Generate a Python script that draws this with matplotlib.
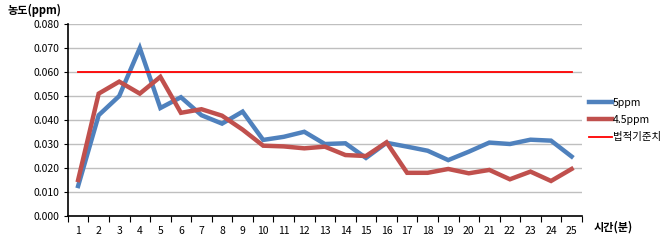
import numpy as np
import matplotlib.pyplot as plt

plt.rcParams['font.family'] = ['Noto Sans CJK KR', 'DejaVu Sans']

# data
minutes = list(range(1, 26))
ppm_5 = [0.0125, 0.042, 0.050, 0.070, 0.045, 0.0495, 0.042, 0.0385, 0.0435, 0.0317,
         0.033, 0.0351, 0.030, 0.0303, 0.0242, 0.0305, 0.0289, 0.0272, 0.0233, 0.0268,
         0.0306, 0.030, 0.0318, 0.0314, 0.0248]
ppm_45 = [0.015, 0.051, 0.056, 0.051, 0.058, 0.043, 0.0445, 0.0418, 0.036, 0.0293,
          0.029, 0.0282, 0.0289, 0.0254, 0.025, 0.0307, 0.018, 0.018, 0.0196, 0.0178,
          0.0192, 0.0153, 0.0185, 0.0146, 0.0196]
limit = [0.060] * 25

fig = plt.figure(figsize=(6.65, 2.49), dpi=100)
ax = fig.add_axes([0.102, 0.1325, 0.773, 0.771])

ax.plot(minutes, ppm_5, color='#4F81BD', lw=3.2, label='5ppm', solid_joinstyle='miter')
ax.plot(minutes, ppm_45, color='#C0504D', lw=3.2, label='4.5ppm', solid_joinstyle='miter')
ax.plot(minutes, limit, color='#FF0000', lw=1.3, label='법적기준치')

ax.set_xlim(0.5, 25.5)
ax.set_ylim(0, 0.08)
ax.set_yticks(np.arange(0, 0.081, 0.01))
ax.set_yticklabels([f'{v:.3f}' for v in np.arange(0, 0.081, 0.01)], fontsize=7.5)
ax.yaxis.grid(True, color='#BFBFBF', lw=1)
ax.set_axisbelow(True)

ax.set_xticks(np.arange(0.5, 26, 1))
ax.set_xticklabels([])
ax.set_xticks(minutes, minor=True)
ax.set_xticklabels([str(m) for m in minutes], minor=True, fontsize=7.5)
ax.tick_params(axis='x', which='major', length=4, direction='out')
ax.tick_params(axis='x', which='minor', length=0, pad=7)
ax.tick_params(axis='y', length=3, pad=3)

for s in ['top', 'right']:
    ax.spines[s].set_visible(False)
ax.spines['left'].set_linewidth(1.2)
ax.spines['bottom'].set_linewidth(1.2)

fig.text(0.012, 0.96, '농도(ppm)', fontsize=8, fontweight='bold', va='center')
fig.text(0.893, 0.09, '시간(분)', fontsize=8, fontweight='bold', va='center')

ax.legend(loc='center left', bbox_to_anchor=(1.0, 0.5), frameon=False, fontsize=7.5,
          handlelength=2.2, handletextpad=0.1, labelspacing=0.7, borderaxespad=0.3)

fig.savefig('out.png', dpi=100)
